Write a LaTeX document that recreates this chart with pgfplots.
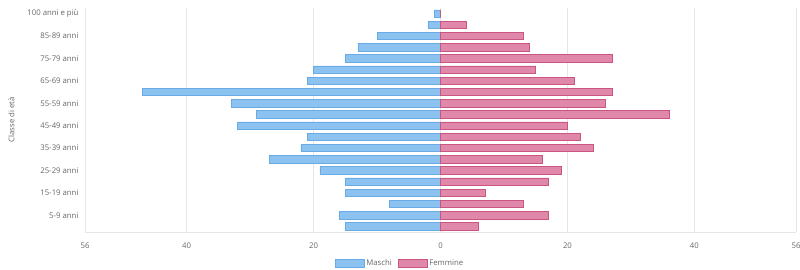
\documentclass[border=0pt]{standalone}
\usepackage{pgfplots}
\pgfplotsset{compat=1.18}
\usepackage{fontspec}
\setmainfont{Open Sans}
\definecolor{mfill}{HTML}{8CC2F0}
\definecolor{mdraw}{HTML}{6AAAE6}
\definecolor{ffill}{HTML}{E088AA}
\definecolor{fdraw}{HTML}{CC5480}
\definecolor{txt}{HTML}{666666}
\definecolor{gridc}{HTML}{E6E6E6}
\begin{document}
\begin{tikzpicture}[x=1bp,y=1bp]
\begin{axis}[
  at={(0bp,0bp)}, anchor=south west,
  scale only axis,
  width=711bp, height=224bp,
  xbar, bar width=0.66, bar shift=0pt,
  xmin=-56, xmax=56,
  ymin=-0.5, ymax=19.5,
  xtick={-56,-40,-20,0,20,40,56},
  xticklabels={56,40,20,0,20,40,56},
  ytick={1,3,5,7,9,11,13,15,17,19},
  yticklabels={5-9 anni,15-19 anni,25-29 anni,35-39 anni,45-49 anni,55-59 anni,65-69 anni,75-79 anni,85-89 anni,100 anni e più},
  /pgf/number format/assume math mode=true,
  tick label style={font=\fontsize{7.8}{9}\selectfont, text=txt},
  xticklabel style={yshift=-7bp},
  yticklabel style={xshift=-3bp},
  ylabel={Classe di età},
  ylabel style={font=\fontsize{7.8}{9}\selectfont, text=txt, yshift=6bp},
  major tick length=0pt,
  axis x line*=bottom, axis y line*=left,
  axis line style={draw=gridc, -},
  xmajorgrids, grid style={draw=gridc, line width=0.5bp},
  legend style={at={(0.443,-0.14)}, anchor=center, draw=none, legend columns=2,
    font=\fontsize{7.8}{9}\selectfont, text=txt,
    nodes={text height=5.5bp, text depth=1.5bp},
    /tikz/every even column/.append style={column sep=4bp}},
  legend image code/.code={\draw[#1] (0bp,-4bp) rectangle (29bp,4.5bp);},
]
\addplot[fill=mfill, draw=mdraw, line width=0.6bp] coordinates {
(-15,0) (-16,1) (-8,2) (-15,3) (-15,4) (-19,5) (-27,6) (-22,7) (-21,8) (-32,9)
(-29,10) (-33,11) (-47,12) (-21,13) (-20,14) (-15,15) (-13,16) (-10,17) (-2,18) (-1,19)};
\addlegendentry{Maschi}
\addplot[fill=ffill, draw=fdraw, line width=0.6bp] coordinates {
(6,0) (17,1) (13,2) (7,3) (17,4) (19,5) (16,6) (24,7) (22,8) (20,9)
(36,10) (26,11) (27,12) (21,13) (15,14) (27,15) (14,16) (13,17) (4,18) (0,19)};
\addlegendentry{Femmine}
\end{axis}
\pgfresetboundingbox
\path[use as bounding box] (-85bp,-38bp) rectangle (715bp,232bp);
\end{tikzpicture}
\end{document}
